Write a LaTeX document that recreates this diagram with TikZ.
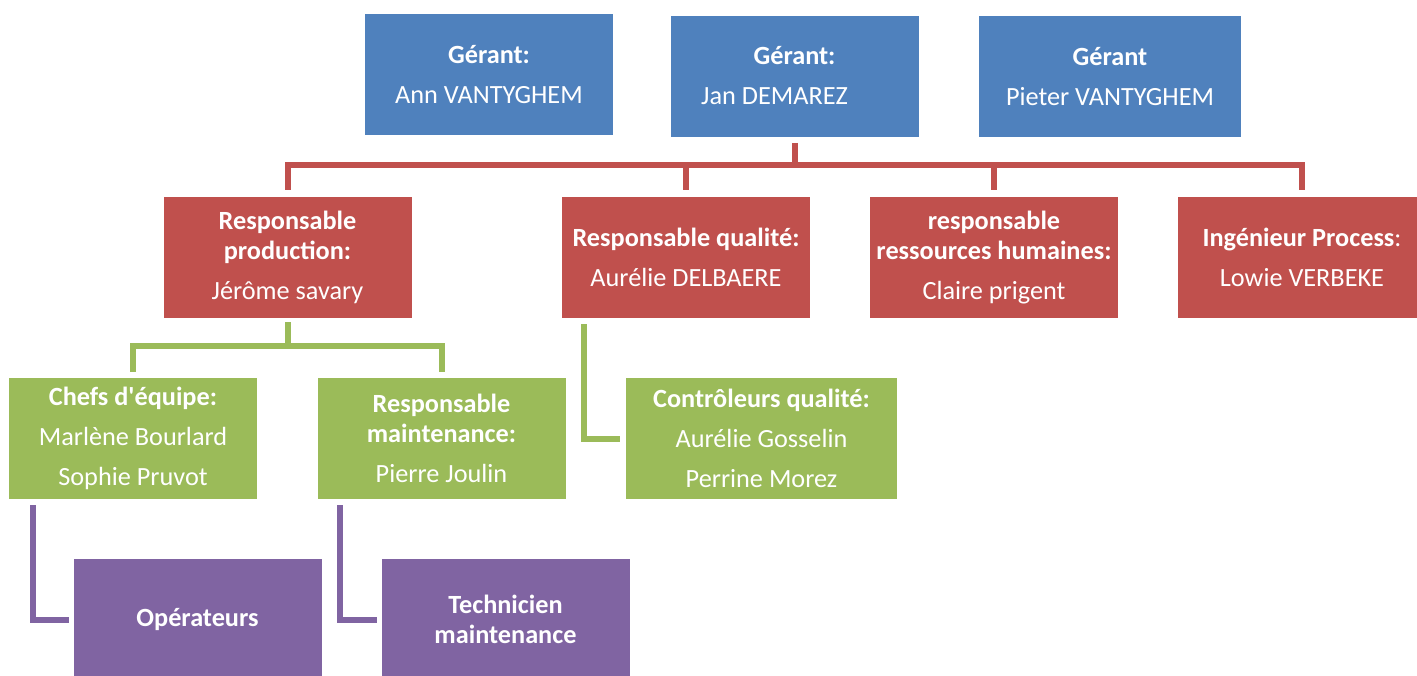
\documentclass[tikz,border=0pt]{standalone}
\usepackage{fontspec}
\setmainfont{Carlito}
\usepackage{xcolor}
\usetikzlibrary{calc}
\definecolor{gerblue}{HTML}{4F81BD}
\definecolor{resred}{HTML}{C0504D}
\definecolor{equgreen}{HTML}{9BBB59}
\definecolor{opviolet}{HTML}{8064A2}
\begin{document}
\begin{tikzpicture}[x=0.75pt,y=-0.75pt,
  every node/.style={font=\fontsize{19.7pt}{22.5pt}\selectfont,text=white,align=center,inner sep=0pt},
  box/.style={minimum width=186pt,minimum height=90.75pt},
  gerantbox/.style={box,fill=gerblue},
  respbox/.style={box,fill=resred},
  equipebox/.style={box,fill=equgreen},
  operbox/.style={box,fill=opviolet},
  lien/.style={line width=4.5pt},
  redlink/.style={lien,draw=resred},
  greenlink/.style={lien,draw=equgreen},
  violetlink/.style={lien,draw=opviolet}]
\clip (0,0) rectangle (1417,675);
\useasboundingbox (0,0) rectangle (1417,675);
% direction
\node[gerantbox] (ann) at (489,74.5) {\textbf{Gérant:}\\[7.5pt]Ann VANTYGHEM};
\node[gerantbox] (jan) at (794.5,76) {\textbf{Gérant:}\\[7.5pt]Jan DEMAREZ\hspace*{30pt}};
\node[gerantbox,minimum width=196.5pt] (pieter) at (1110,76.5) {\textbf{Gérant}\\[7.5pt]Pieter VANTYGHEM};
% responsables
\node[respbox] (prod) at (287.5,257.5) {\textbf{Responsable}\\\textbf{production:}\\[7.5pt]Jérôme savary};
\node[respbox] (qual) at (686,257.5) {\textbf{Responsable qualité:}\\[7.5pt]Aurélie DELBAERE};
\node[respbox] (rh) at (994,257.5) {\textbf{responsable}\\\textbf{ressources humaines:}\\[7.5pt]Claire prigent};
\node[respbox] (proc) at (1302,257.5) {\textbf{Ingénieur Process}:\\[7.5pt]Lowie VERBEKE};
% equipes
\node[equipebox] (chefs) at (133,438.5) {\textbf{Chefs d\textquotesingle équipe:}\\[7.5pt]Marlène Bourlard\\[7.5pt]Sophie Pruvot};
\node[equipebox] (maint) at (441.5,438.5) {\textbf{Responsable}\\\textbf{maintenance:}\\[7.5pt]Pierre Joulin};
\node[equipebox,minimum width=203.25pt] (ctrl) at (761.5,438.5) {\textbf{Contrôleurs qualité:}\\[7.5pt]Aurélie Gosselin\\[7.5pt]Perrine Morez};
% operateurs
\node[operbox] (oper) at (197.5,619.5) {\textbf{Opérateurs}};
\node[operbox] (tech) at (505.5,619.5) {\textbf{Technicien}\\\textbf{maintenance}};
% liens gerant -> responsables
\draw[redlink,shorten <=4.5pt] (jan.south) -- ++(0,28) coordinate (rbus);
\foreach \n in {prod,qual,rh,proc}
  \draw[redlink,shorten >=5pt] (rbus) -| (\n.north);
% liens production -> equipes
\draw[greenlink,shorten <=3pt] (prod.south) -- ++(0,28) coordinate (gbus);
\foreach \n in {chefs,maint}
  \draw[greenlink,shorten >=4.5pt] (gbus) -| (\n.north);
\draw[greenlink,shorten <=4.5pt,shorten >=4.5pt] ($(qual.south west)+(22,0)$) |- (ctrl.west);
% liens equipes -> operateurs
\draw[violetlink,shorten <=4.5pt,shorten >=3.5pt] ($(chefs.south west)+(24,0)$) |- (oper.west);
\draw[violetlink,shorten <=4.5pt,shorten >=3.5pt] ($(maint.south west)+(23,0)$) |- (tech.west);
\end{tikzpicture}
\end{document}
